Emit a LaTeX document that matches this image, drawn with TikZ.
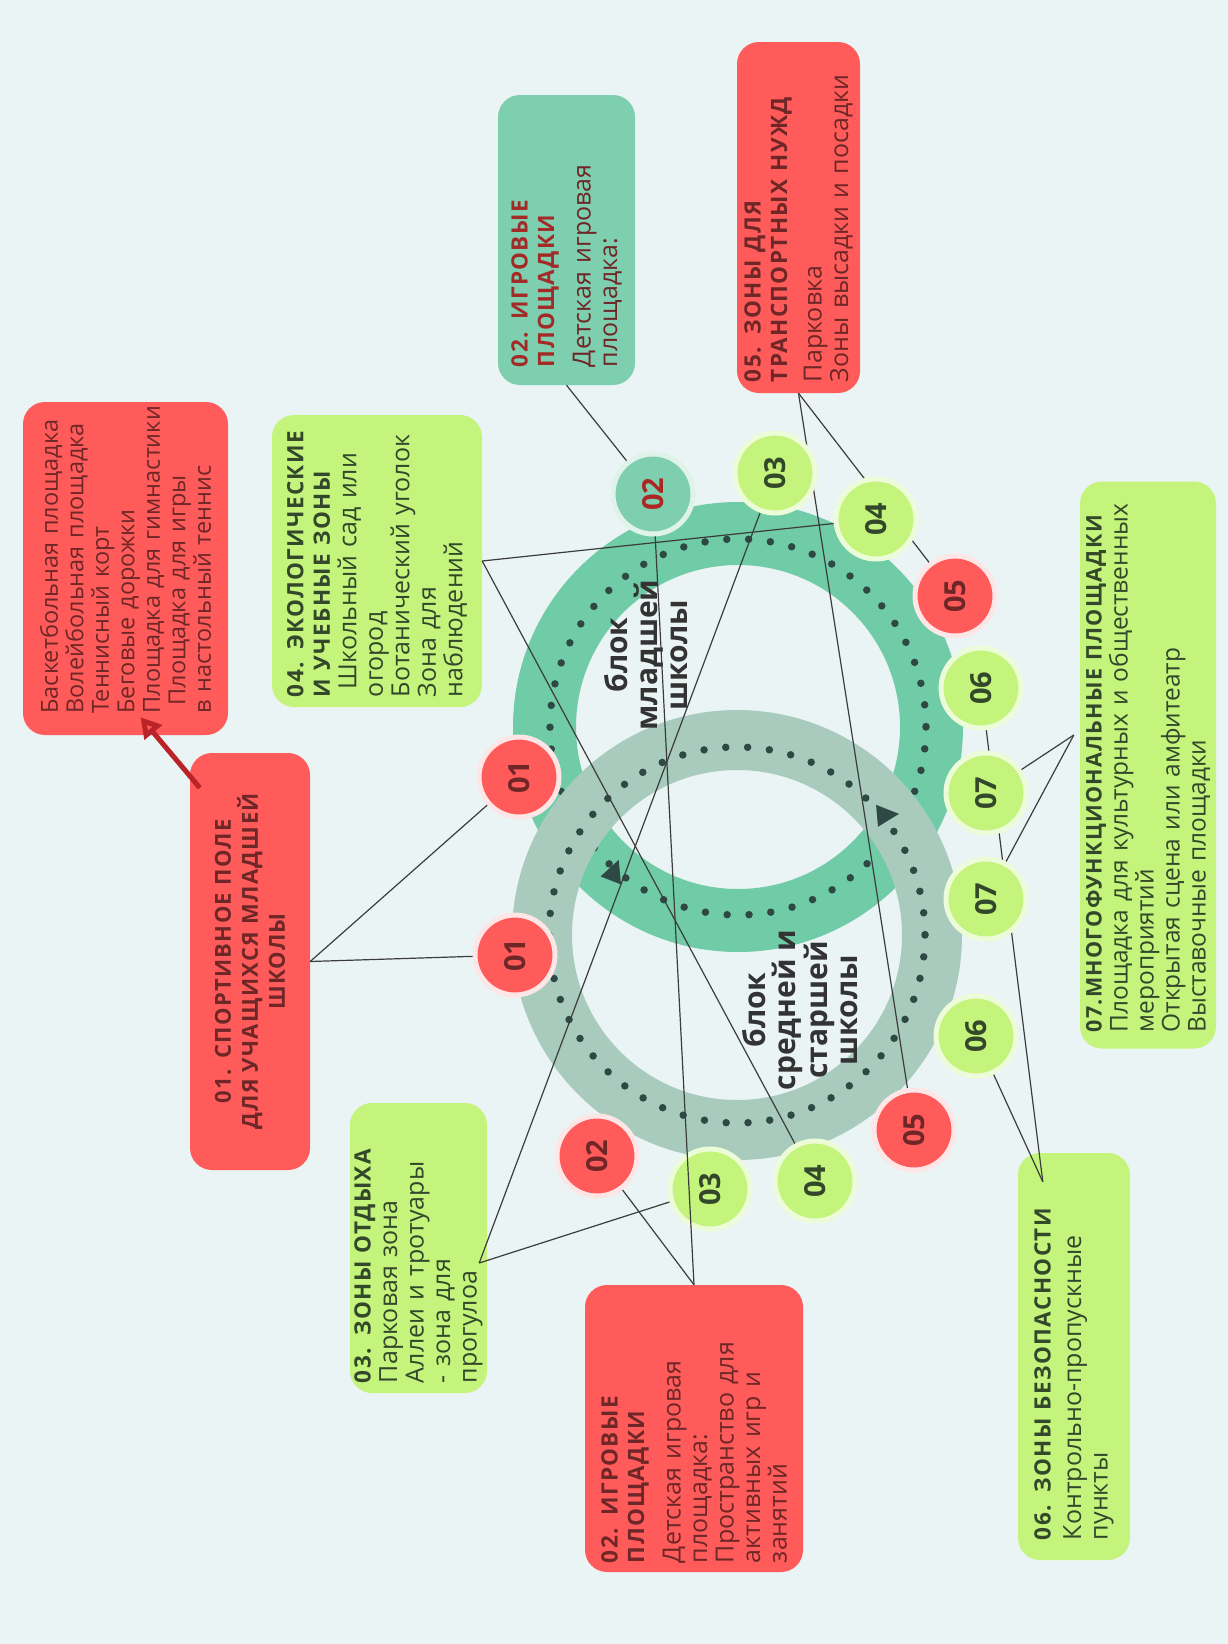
\documentclass[tikz,border=0pt]{standalone}
\usepackage{fontspec}
\setmainfont{Open Sans}
\newfontfamily\spaced[LetterSpace=6]{Open Sans}
\usetikzlibrary{calc,arrows.meta}
\definecolor{bgc}{HTML}{EBF4F4}
\definecolor{ringA}{HTML}{70CBA7}
\definecolor{ringB}{HTML}{A8CBBE}
\definecolor{redc}{HTML}{FF5B5B}
\definecolor{limec}{HTML}{C4F47C}
\definecolor{tealc}{HTML}{7ECFAF}
\definecolor{dotc}{HTML}{2E4944}
\definecolor{redtxt}{HTML}{6E2626}
\definecolor{limetxt}{HTML}{33472A}
\definecolor{tealttl}{HTML}{A32B27}
\definecolor{linec}{HTML}{3C3C3C}
\definecolor{arrowc}{HTML}{BA2428}
\definecolor{labc}{HTML}{333333}
\newcommand\ttlfont{\spaced\bfseries\fontsize{22.5}{26.5}\selectfont}
\begin{document}
\begin{tikzpicture}[x=1pt,y=-1pt,
  zone/.style={rotate=90, rounded corners=22pt, inner sep=0pt, align=left, font=\fontsize{25}{26.5}\selectfont},
  numc/.style={circle, minimum size=80pt, inner sep=0pt, line width=5pt, rotate=90, font=\bfseries\fontsize{29}{29}\selectfont},
  rednum/.style={numc, fill=redc, draw=redc!15!white, text=redtxt},
  limenum/.style={numc, fill=limec, draw=limec!30!white, text=limetxt},
  tealnum/.style={numc, fill=tealc, draw=tealc!25!white, text=tealttl!90!red},
  conn/.style={draw=linec, line width=1.2pt},
  lbl/.style={rotate=90, align=center, inner sep=0pt, text=labc, font=\bfseries\fontsize{30}{30}\selectfont}
]
\useasboundingbox (0,0) rectangle (1228,1644);
\fill[bgc] (0,0) rectangle (1228,1644);

% rings
\fill[ringA, even odd rule] (738,727) circle[radius=225] (738,727) circle[radius=162];
\draw[dotc, line width=7.5pt, line cap=round, dash pattern=on 0pt off 21.87pt] (738,727) circle[radius=188];
\fill[ringB, even odd rule] (737,935) circle[radius=225] (737,935) circle[radius=165];
\draw[dotc, line width=7.5pt, line cap=round, dash pattern=on 0pt off 21.87pt] (737,935) circle[radius=188];
\fill[dotc, shift={(614,872)}, rotate=69] (13,0) -- (-9,11) -- (-9,-11) -- cycle;
\fill[dotc, shift={(886,815)}, rotate=5] (13,0) -- (-9,11) -- (-9,-11) -- cycle;

% centre labels
\node[lbl] (lblA) at (646,655) {блок\\младшей\\школы};
\node[lbl] (lblB) at (800,1010) {блок\\средней и\\старшей\\школы};

% boxes
\node[zone, fill=redc, text=redtxt, minimum width=333pt, minimum height=205pt, text width=290pt, font=\fontsize{23.5}{25.5}\selectfont] (bsport) at (125.5,568.5)
  {\mbox{Баскетбольная площадка}\\\mbox{Волейбольная площадка}\\\mbox{Теннисный корт}\\\mbox{Беговые дорожки}\\\mbox{Площадка для гимнастики}\\\mbox{\hspace*{8pt}Площадка для игры}\\\mbox{в настольный теннис}};
\node[zone, align=center, fill=redc, text=redtxt, minimum width=417pt, minimum height=120pt, text width=390pt, font=\spaced\bfseries\fontsize{22}{27}\selectfont] (b01) at (250,961.5)
  {\mbox{01. СПОРТИВНОЕ ПОЛЕ}\\\mbox{ДЛЯ УЧАЩИХСЯ МЛАДШЕЙ}\\\mbox{ШКОЛЫ}};
\node[zone, fill=limec, text=limetxt, minimum width=292pt, minimum height=210pt, text width=272pt] (b04) at (377,561)
  {{\ttlfont \mbox{04. ЭКОЛОГИЧЕСКИЕ}\\\mbox{И УЧЕБНЫЕ ЗОНЫ}}\\\mbox{\hspace*{8pt}Школьный сад или}\\\mbox{огород}\\\mbox{Ботанический уголок}\\\mbox{Зона для}\\\mbox{наблюдений}};
\node[zone, fill=tealc, text=redtxt, minimum width=290pt, minimum height=137pt, text width=254pt] (b02t) at (566.5,240)
  {{\color{tealttl}\ttlfont \mbox{02. ИГРОВЫЕ}\\\mbox{ПЛОЩАДКИ}}\\[10pt]\mbox{Детская игровая}\\\mbox{площадка:}};
\node[zone, fill=redc, text=redtxt, minimum width=351pt, minimum height=123pt, text width=329pt] (b05) at (798.5,217.5)
  {{\ttlfont \mbox{05. ЗОНЫ ДЛЯ}\\\mbox{ТРАНСПОРТНЫХ НУЖД}}\\[8pt]\mbox{Парковка}\\\mbox{Зоны высадки и посадки}};
\node[zone, fill=limec, text=limetxt, minimum width=290pt, minimum height=137pt, text width=270pt] (b03) at (418.5,1248)
  {{\ttlfont \mbox{03. ЗОНЫ ОТДЫХА}}\\\mbox{Парковая зона}\\\mbox{Аллеи и тротуары}\\\mbox{- зона для}\\\mbox{прогулоа}};
\node[zone, fill=redc, text=redtxt, minimum width=287pt, minimum height=218pt, text width=269pt] (b02b) at (694,1428.5)
  {{\ttlfont \mbox{02. ИГРОВЫЕ}\\\mbox{ПЛОЩАДКИ}}\\[10pt]\mbox{Детская игровая}\\\mbox{площадка:}\\\mbox{Пространство для}\\\mbox{активных игр и}\\\mbox{занятий}};
\node[zone, fill=limec, text=limetxt, minimum width=407pt, minimum height=112pt, text width=367pt] (b06) at (1074,1356.5)
  {{\ttlfont \mbox{06. ЗОНЫ БЕЗОПАСНОСТИ}}\\[4pt]\mbox{Контрольно-пропускные}\\\mbox{пункты}};
\node[zone, fill=limec, text=limetxt, minimum width=567pt, minimum height=136pt, text width=535pt, font=\fontsize{24.5}{26}\selectfont] (b07) at (1148,765)
  {{\spaced\bfseries\fontsize{21.5}{26}\selectfont \mbox{07.МНОГОФУНКЦИОНАЛЬНЫЕ ПЛОЩАДКИ}}\\\mbox{Площадка для культурных и общественных}\\\mbox{мероприятий}\\\mbox{Открытая сцена или амфитеатр}\\\mbox{Выставочные площадки}};

% circle centres
\coordinate (p01u) at (519,777);
\coordinate (p01l) at (515,955);
\coordinate (p02u) at (653,494);
\coordinate (p03u) at (775,473);
\coordinate (p04u) at (876,519);
\coordinate (p05u) at (955,596);
\coordinate (p06u) at (981,688);
\coordinate (p07u) at (986,793);
\coordinate (p07l) at (986,899);
\coordinate (p06l) at (976,1036);
\coordinate (p05l) at (914,1130);
\coordinate (p04l) at (815,1181);
\coordinate (p03l) at (710,1189);
\coordinate (p02l) at (597,1156);

% anchors on boxes
\coordinate (a01) at (b01.south);
\coordinate (a04) at (b04.south);
\coordinate (a03) at ($(b03.south)+(-8,15)$);
\coordinate (a02t) at (b02t.west);
\coordinate (a05) at (b05.west);
\coordinate (a02b) at (b02b.east);
\coordinate (a06) at ($(b06.north east)+(25,29)$);
\coordinate (a07) at ($(b07.north)+(-6,-30)$);

% connectors
\draw[conn] (a01) -- (p01u);
\draw[conn] (a01) -- (p01l);
\draw[conn] (a02t) -- (p02u);
\draw[conn] (a02b) -- (p02l);
\draw[conn] (a03) -- (p03u);
\draw[conn] (a03) -- (p03l);
\draw[conn] (a04) -- (p04u);
\draw[conn] (a04) -- (p04l);
\draw[conn] (a05) -- (p05u);
\draw[conn] (a05) -- (p05l);
\draw[conn] (a06) -- (p06u);
\draw[conn] (a06) -- (p06l);
\draw[conn] (a07) -- (p07u);
\draw[conn] (a07) -- (p07l);

% circles
\node[rednum] (c01u) at (p01u) {01};
\node[rednum] (c01l) at (p01l) {01};
\node[tealnum] (c02u) at (p02u) {02};
\node[limenum] (c03u) at (p03u) {03};
\node[limenum] (c04u) at (p04u) {04};
\node[rednum] (c05u) at (p05u) {05};
\node[limenum] (c06u) at (p06u) {06};
\node[limenum] (c07u) at (p07u) {07};
\node[limenum] (c07l) at (p07l) {07};
\node[limenum] (c06l) at (p06l) {06};
\node[rednum] (c05l) at (p05l) {05};
\node[limenum] (c04l) at (p04l) {04};
\node[limenum] (c03l) at (p03l) {03};
\node[rednum] (c02l) at (p02l) {02};

\draw[conn] (a02b) -- (c02u);

% arrow
\draw[arrowc, line width=5pt, -{Triangle[open, length=20pt, width=22pt]}] ($(b01.north east)+(10,35)$) -- ($(bsport.west)+(15,-18)$);
\end{tikzpicture}
\end{document}
